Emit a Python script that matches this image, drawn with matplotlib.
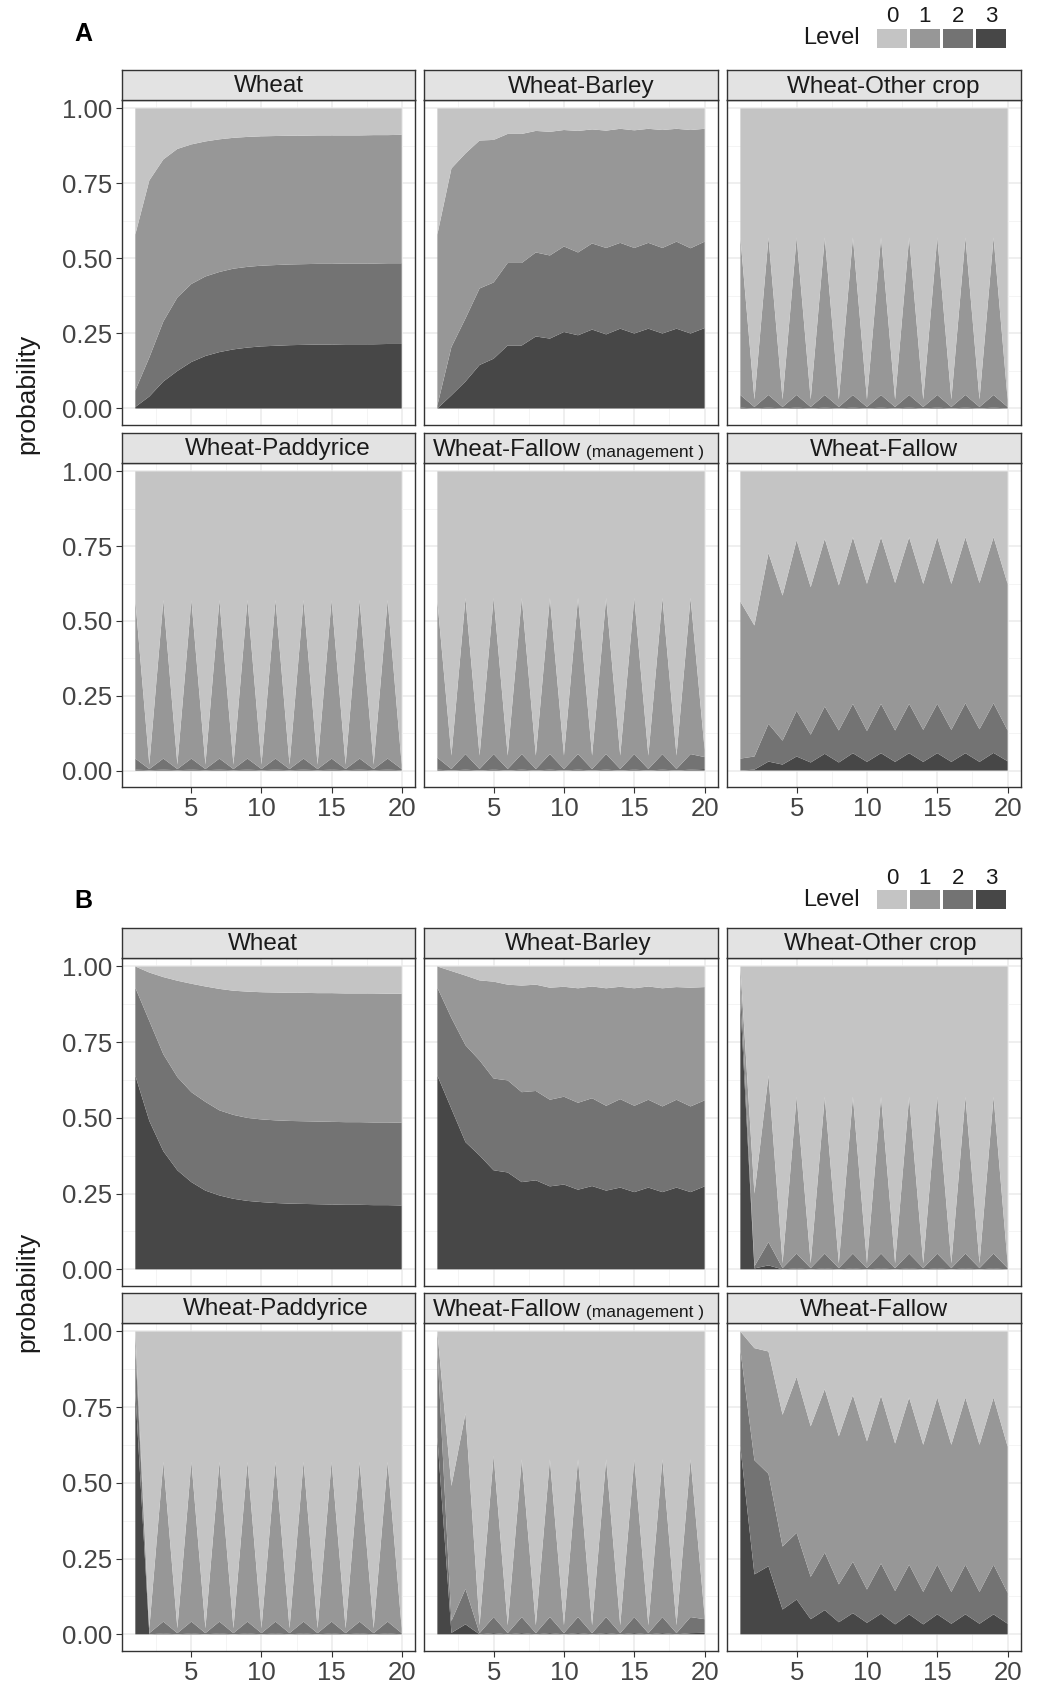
"""Stacked probability areas by rotation, two scenarios (A, B)."""
import matplotlib
matplotlib.use('Agg')
import matplotlib.pyplot as plt
from matplotlib.patches import Rectangle
import numpy as np

plt.rcParams['font.family'] = ['Liberation Sans', 'DejaVu Sans']

W, H = 1037, 1686

# ---- data: probability of each level (1..3) per year; level 0 is the remainder ----
YEARS = [1, 2, 3, 4, 5, 6, 7, 8, 9, 10, 11, 12, 13, 14, 15, 16, 17, 18, 19, 20]

# A
A_WHEAT_L1 = [0.52, 0.59, 0.54, 0.495, 0.465, 0.45, 0.442, 0.436, 0.433, 0.431,
              0.430, 0.429, 0.428, 0.428, 0.428, 0.427, 0.427, 0.428, 0.427, 0.428]
A_WHEAT_L2 = [0.055, 0.13, 0.20, 0.245, 0.26, 0.265, 0.267, 0.269, 0.269, 0.269,
              0.269, 0.269, 0.269, 0.269, 0.269, 0.269, 0.269, 0.269, 0.269, 0.269]
A_WHEAT_L3 = [0.005, 0.04, 0.09, 0.125, 0.155, 0.175, 0.188, 0.197, 0.203, 0.207,
              0.209, 0.211, 0.212, 0.213, 0.213, 0.214, 0.214, 0.214, 0.215, 0.215]

A_BARLEY_L1 = [0.57, 0.595, 0.55, 0.493, 0.475, 0.43, 0.43, 0.405, 0.412, 0.388,
               0.405, 0.38, 0.391, 0.38, 0.392, 0.38, 0.393, 0.376, 0.394, 0.376]
A_BARLEY_L2 = [0.01, 0.161, 0.21, 0.255, 0.254, 0.275, 0.275, 0.28, 0.277, 0.285,
               0.276, 0.287, 0.288, 0.286, 0.285, 0.286, 0.285, 0.29, 0.284, 0.288]
A_BARLEY_L3 = [0.0, 0.044, 0.09, 0.145, 0.166, 0.21, 0.21, 0.24, 0.233, 0.255,
               0.244, 0.263, 0.247, 0.266, 0.25, 0.266, 0.25, 0.266, 0.25, 0.268]

A_OTHER_L1 = [0.525, 0.025, 0.525, 0.025, 0.525, 0.025, 0.525, 0.025, 0.525, 0.025,
              0.525, 0.025, 0.525, 0.025, 0.525, 0.025, 0.525, 0.025, 0.525, 0.025]
A_OTHER_L2 = [0.042, 0.005, 0.042, 0.005, 0.042, 0.005, 0.042, 0.005, 0.042, 0.005,
              0.042, 0.005, 0.042, 0.005, 0.042, 0.005, 0.042, 0.005, 0.042, 0.005]
A_OTHER_L3 = [0.003, 0.0, 0.003, 0.0, 0.003, 0.0, 0.003, 0.0, 0.003, 0.0,
              0.003, 0.0, 0.003, 0.0, 0.003, 0.0, 0.003, 0.0, 0.003, 0.0]

A_PADDY_L1 = [0.53, 0.015, 0.53, 0.015, 0.53, 0.015, 0.53, 0.015, 0.53, 0.015,
              0.53, 0.015, 0.53, 0.015, 0.53, 0.015, 0.53, 0.015, 0.53, 0.015]
A_PADDY_L2 = [0.037, 0.004, 0.037, 0.004, 0.037, 0.004, 0.037, 0.004, 0.037, 0.004,
              0.037, 0.004, 0.037, 0.004, 0.037, 0.004, 0.037, 0.004, 0.037, 0.004]
A_PADDY_L3 = [0.003, 0.001, 0.003, 0.001, 0.003, 0.001, 0.003, 0.001, 0.003, 0.001,
              0.003, 0.001, 0.003, 0.001, 0.003, 0.001, 0.003, 0.001, 0.003, 0.001]

A_FMGMT_L1 = [0.525, 0.045, 0.522, 0.045, 0.522, 0.045, 0.522, 0.045, 0.522, 0.045,
              0.522, 0.045, 0.522, 0.045, 0.522, 0.045, 0.522, 0.045, 0.522, 0.025]
A_FMGMT_L2 = [0.04, 0.005, 0.052, 0.005, 0.052, 0.005, 0.052, 0.005, 0.052, 0.005,
              0.052, 0.005, 0.052, 0.005, 0.052, 0.005, 0.052, 0.005, 0.052, 0.04]
A_FMGMT_L3 = [0.003, 0.0, 0.003, 0.0, 0.003, 0.0, 0.003, 0.0, 0.003, 0.0,
              0.003, 0.0, 0.003, 0.0, 0.003, 0.0, 0.003, 0.0, 0.003, 0.005]

A_FALLOW_L1 = [0.525, 0.438, 0.571, 0.485, 0.57, 0.493, 0.561, 0.485, 0.557, 0.492,
               0.557, 0.493, 0.557, 0.488, 0.557, 0.488, 0.555, 0.489, 0.555, 0.49]
A_FALLOW_L2 = [0.04, 0.044, 0.126, 0.08, 0.153, 0.093, 0.158, 0.107, 0.165, 0.103,
               0.165, 0.105, 0.165, 0.107, 0.165, 0.107, 0.167, 0.109, 0.166, 0.103]
A_FALLOW_L3 = [0.0, 0.003, 0.03, 0.02, 0.047, 0.027, 0.056, 0.027, 0.058, 0.029,
               0.058, 0.029, 0.058, 0.029, 0.058, 0.029, 0.058, 0.029, 0.059, 0.031]

# B
B_WHEAT_L1 = [0.07, 0.16, 0.255, 0.318, 0.358, 0.381, 0.401, 0.41, 0.417, 0.42,
              0.422, 0.423, 0.424, 0.424, 0.425, 0.425, 0.425, 0.426, 0.425, 0.426]
B_WHEAT_L2 = [0.29, 0.33, 0.32, 0.308, 0.297, 0.293, 0.281, 0.277, 0.274, 0.273,
              0.273, 0.273, 0.273, 0.273, 0.273, 0.273, 0.273, 0.273, 0.273, 0.273]
B_WHEAT_L3 = [0.64, 0.49, 0.39, 0.327, 0.288, 0.26, 0.244, 0.233, 0.226, 0.222,
              0.219, 0.217, 0.216, 0.215, 0.214, 0.213, 0.213, 0.212, 0.212, 0.211]

B_BARLEY_L1 = [0.07, 0.155, 0.23, 0.264, 0.32, 0.316, 0.352, 0.351, 0.37, 0.363,
               0.378, 0.369, 0.388, 0.371, 0.388, 0.374, 0.39, 0.372, 0.392, 0.374]
B_BARLEY_L2 = [0.29, 0.30, 0.32, 0.314, 0.303, 0.304, 0.297, 0.295, 0.286, 0.29,
               0.287, 0.29, 0.28, 0.292, 0.285, 0.29, 0.283, 0.29, 0.283, 0.284]
B_BARLEY_L3 = [0.64, 0.53, 0.42, 0.376, 0.327, 0.32, 0.288, 0.294, 0.274, 0.28,
               0.263, 0.275, 0.26, 0.27, 0.255, 0.27, 0.255, 0.27, 0.255, 0.274]

B_OTHER_L1 = [0.04, 0.24, 0.55, 0.016, 0.518, 0.016, 0.518, 0.016, 0.518, 0.016,
              0.518, 0.016, 0.518, 0.016, 0.518, 0.016, 0.518, 0.016, 0.518, 0.016]
B_OTHER_L2 = [0.08, 0.007, 0.077, 0.004, 0.049, 0.004, 0.049, 0.004, 0.049, 0.004,
              0.049, 0.004, 0.049, 0.004, 0.049, 0.004, 0.049, 0.004, 0.049, 0.004]
B_OTHER_L3 = [0.88, 0.003, 0.013, 0.0, 0.003, 0.0, 0.003, 0.0, 0.003, 0.0,
              0.003, 0.0, 0.003, 0.0, 0.003, 0.0, 0.003, 0.0, 0.003, 0.0]

B_PADDY_L1 = [0.05, 0.016, 0.528, 0.016, 0.528, 0.016, 0.528, 0.016, 0.528, 0.016,
              0.528, 0.016, 0.528, 0.016, 0.528, 0.016, 0.528, 0.016, 0.528, 0.016]
B_PADDY_L2 = [0.15, 0.004, 0.039, 0.004, 0.039, 0.004, 0.039, 0.004, 0.039, 0.004,
              0.039, 0.004, 0.039, 0.004, 0.039, 0.004, 0.039, 0.004, 0.039, 0.004]
B_PADDY_L3 = [0.80, 0.0, 0.003, 0.0, 0.003, 0.0, 0.003, 0.0, 0.003, 0.0,
              0.003, 0.0, 0.003, 0.0, 0.003, 0.0, 0.003, 0.0, 0.003, 0.0]

B_FMGMT_L1 = [0.06, 0.446, 0.58, 0.026, 0.533, 0.026, 0.521, 0.026, 0.521, 0.026,
              0.521, 0.026, 0.521, 0.026, 0.521, 0.026, 0.521, 0.026, 0.521, 0.01]
B_FMGMT_L2 = [0.29, 0.039, 0.117, 0.004, 0.053, 0.004, 0.053, 0.004, 0.053, 0.004,
              0.053, 0.004, 0.053, 0.004, 0.053, 0.004, 0.053, 0.004, 0.053, 0.045]
B_FMGMT_L3 = [0.65, 0.005, 0.033, 0.0, 0.004, 0.0, 0.004, 0.0, 0.004, 0.0,
              0.004, 0.0, 0.004, 0.0, 0.004, 0.0, 0.004, 0.0, 0.004, 0.005]

B_FALLOW_L1 = [0.06, 0.37, 0.404, 0.435, 0.515, 0.497, 0.54, 0.489, 0.55, 0.489,
               0.554, 0.487, 0.552, 0.486, 0.552, 0.486, 0.552, 0.486, 0.552, 0.483]
B_FALLOW_L2 = [0.32, 0.377, 0.305, 0.208, 0.22, 0.14, 0.19, 0.125, 0.17, 0.11,
               0.166, 0.11, 0.164, 0.107, 0.164, 0.105, 0.164, 0.105, 0.164, 0.102]
B_FALLOW_L3 = [0.62, 0.198, 0.225, 0.082, 0.115, 0.05, 0.08, 0.04, 0.07, 0.038,
               0.068, 0.033, 0.066, 0.033, 0.066, 0.035, 0.066, 0.035, 0.066, 0.035]

PANEL_TITLES = ['Wheat', 'Wheat-Barley', 'Wheat-Other crop',
                'Wheat-Paddyrice', 'Wheat-Fallow', 'Wheat-Fallow']
LEVELS = ['0', '1', '2', '3']
LEVEL_COLORS = ['#C4C4C4', '#979797', '#737373', '#474747']

SECTION_A = [(A_WHEAT_L1, A_WHEAT_L2, A_WHEAT_L3),
             (A_BARLEY_L1, A_BARLEY_L2, A_BARLEY_L3),
             (A_OTHER_L1, A_OTHER_L2, A_OTHER_L3),
             (A_PADDY_L1, A_PADDY_L2, A_PADDY_L3),
             (A_FMGMT_L1, A_FMGMT_L2, A_FMGMT_L3),
             (A_FALLOW_L1, A_FALLOW_L2, A_FALLOW_L3)]
SECTION_B = [(B_WHEAT_L1, B_WHEAT_L2, B_WHEAT_L3),
             (B_BARLEY_L1, B_BARLEY_L2, B_BARLEY_L3),
             (B_OTHER_L1, B_OTHER_L2, B_OTHER_L3),
             (B_PADDY_L1, B_PADDY_L2, B_PADDY_L3),
             (B_FMGMT_L1, B_FMGMT_L2, B_FMGMT_L3),
             (B_FALLOW_L1, B_FALLOW_L2, B_FALLOW_L3)]

# ---- layout (pixels) ----
COLS = [(122, 415), (424, 718), (727, 1021)]
ROWS_A = [(100, 425), (463, 787)]
ROWS_B = [(958, 1286), (1323, 1651)]
TITLE_POS_A = [0.5, 0.535, 0.53, 0.53, 0.03, 0.535]
TITLE_POS_B = [0.48, 0.525, 0.52, 0.525, 0.03, 0.50]
STRIP_H = 30
TEXT = '#1A1A1A'
TICK = '#444444'
BORDER = '#333333'

fig = plt.figure(figsize=(W / 100, H / 100), dpi=100)
fig.patch.set_facecolor('white')


def fx(x):
    return x / W


def fy(y):
    return 1 - y / H


def px_axes(left, top, right, bottom):
    return fig.add_axes([fx(left), fy(bottom), (right - left) / W, (bottom - top) / H])


def draw_panel(left, top, right, bottom, title, tpos, levels, show_x, show_y, mgmt=False):
    ax = px_axes(left, top, right, bottom)
    l1, l2, l3 = [np.array(v) for v in levels]
    l0 = 1 - (l1 + l2 + l3)  # remaining probability of level 0
    ax.set_axisbelow(True)
    ax.stackplot(YEARS, l3, l2, l1, l0, colors=LEVEL_COLORS[::-1], linewidth=0)
    ax.set_xlim(0.05, 20.95)
    ax.set_ylim(-0.055, 1.028)
    ax.set_xticks([5, 10, 15, 20])
    ax.set_xticks([2.5, 7.5, 12.5, 17.5], minor=True)
    ax.set_yticks([0, 0.25, 0.5, 0.75, 1.0])
    ax.set_yticks([0.125, 0.375, 0.625, 0.875], minor=True)
    ax.grid(which='major', color='#EBEBEB', linewidth=1.1)
    ax.grid(which='minor', color='#F2F2F2', linewidth=0.6)
    for s in ax.spines.values():
        s.set_color(BORDER)
        s.set_linewidth(1.0)
    ax.tick_params(which='minor', length=0)
    ax.tick_params(which='major', length=4, color=BORDER, labelsize=18.5,
                   labelcolor=TICK, pad=3)
    if show_y:
        ax.set_yticklabels(['0.00', '0.25', '0.50', '0.75', '1.00'])
    else:
        ax.tick_params(axis='y', length=0, labelleft=False)
    if not show_x:
        ax.tick_params(axis='x', length=0, labelbottom=False)

    # facet strip
    st = px_axes(left, top - STRIP_H, right, top)
    st.set_facecolor('#E3E3E3')
    st.set_xticks([])
    st.set_yticks([])
    for s in st.spines.values():
        s.set_color(BORDER)
        s.set_linewidth(1.0)
    if mgmt:
        t1 = st.text(tpos, 0.45, title, ha='left', va='center', fontsize=17.5,
                     color=TEXT, transform=st.transAxes)
        st.annotate(' (management )', xy=(1, 0), xycoords=t1, ha='left',
                    va='bottom', fontsize=12.5, color=TEXT)
    else:
        st.text(tpos, 0.45, title, ha='center', va='center', fontsize=17.5,
                color=TEXT, transform=st.transAxes)
    return ax


def draw_section(rows, data, tpos, label, label_y, legend_y, ylab_y):
    for i, levels in enumerate(data):
        r, c = divmod(i, 3)
        left, right = COLS[c]
        top, bottom = rows[r]
        draw_panel(left, top, right, bottom, PANEL_TITLES[i], tpos[i], levels,
                   show_x=(r == 1), show_y=(c == 0), mgmt=(i == 4))
    fig.text(fx(83), fy(label_y), label, ha='center', va='center',
             fontsize=18, fontweight='bold', color='black')
    fig.text(fx(27), fy(ylab_y), 'probability', rotation=90, ha='center',
             va='center', fontsize=19, color=TEXT)
    # legend
    fig.text(fx(831), fy(legend_y), 'Level', ha='center', va='center',
             fontsize=17, color=TEXT)
    for k, (lev, col) in enumerate(zip(LEVELS, LEVEL_COLORS)):
        x0 = 877 + k * 33
        fig.add_artist(Rectangle((fx(x0), fy(legend_y + 9.5)), 30 / W, 19 / H,
                                 transform=fig.transFigure, facecolor=col,
                                 edgecolor='none'))
        fig.text(fx(x0 + 15), fy(legend_y - 22), lev, ha='center', va='center',
                 fontsize=16, color=TEXT)


draw_section(ROWS_A, SECTION_A, TITLE_POS_A, 'A', 34, 38.5, 394)
draw_section(ROWS_B, SECTION_B, TITLE_POS_B, 'B', 901, 900, 1292)

plt.savefig('out.png', dpi=100, facecolor='white')
